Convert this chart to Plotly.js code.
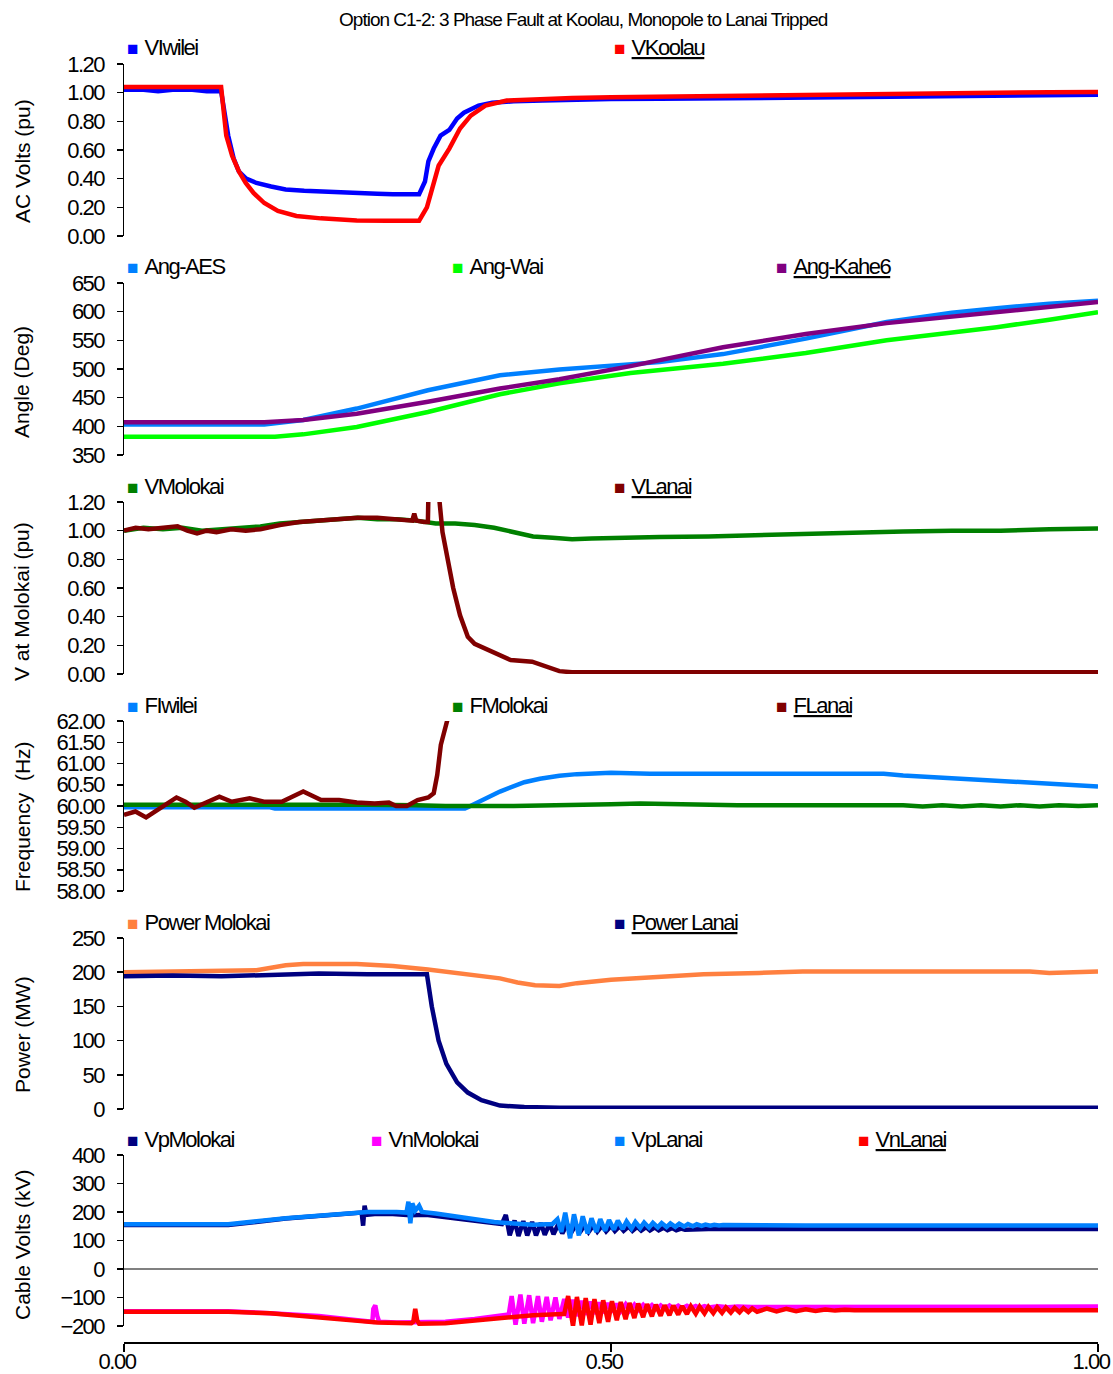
<!DOCTYPE html>
<html>
<head>
<meta charset="utf-8">
<script src="https://cdn.plot.ly/plotly-3.0.1.min.js"></script>
<style>
html,body{margin:0;padding:0;background:#fff;}
#chart{width:1113px;height:1374px;}
#chart .gtitle{letter-spacing:-1px;}
#chart [class$="tick"] text{letter-spacing:-1.5px;}
</style>
</head>
<body>
<div id="chart"></div>
<script>
// ---------------- DATA ----------------
const chartTitle = "Option C1-2: 3 Phase Fault at Koolau, Monopole to Lanai Tripped";
const xTickVals = [0, 0.5, 1.0];
const xTickText = ["0.00", "0.50", "1.00"];

// Panel 1: AC Volts (pu)
const t_VIwilei = [0, 0.02, 0.035, 0.05, 0.07, 0.085, 0.0997, 0.107, 0.1126, 0.118, 0.1254, 0.136, 0.151, 0.166, 0.185, 0.202, 0.22, 0.239, 0.26, 0.276, 0.29, 0.303, 0.309, 0.3125, 0.318, 0.325, 0.334, 0.342, 0.349, 0.364, 0.378, 0.40, 0.43, 0.46, 0.50, 0.55, 0.60, 0.65, 0.70, 0.75, 0.80, 0.85, 0.90, 0.95, 1.0];
const v_VIwilei = [1.02, 1.02, 1.01, 1.02, 1.02, 1.01, 1.01, 0.70, 0.54, 0.45, 0.40, 0.37, 0.345, 0.325, 0.315, 0.31, 0.30, 0.297, 0.295, 0.292, 0.292, 0.292, 0.38, 0.52, 0.61, 0.70, 0.74, 0.82, 0.86, 0.91, 0.93, 0.94, 0.945, 0.95, 0.955, 0.957, 0.96, 0.965, 0.97, 0.975, 0.975, 0.978, 0.98, 0.982, 0.985];
const t_VKoolau = [0, 0.05, 0.0997, 0.105, 0.111, 0.118, 0.125, 0.133, 0.144, 0.158, 0.177, 0.202, 0.239, 0.27, 0.303, 0.311, 0.316, 0.323, 0.334, 0.345, 0.356, 0.371, 0.393, 0.422, 0.46, 0.5, 0.55, 0.6, 0.65, 0.7, 0.75, 0.8, 0.85, 0.9, 0.95, 1.0];
const v_VKoolau = [1.04, 1.04, 1.04, 0.70, 0.56, 0.45, 0.37, 0.30, 0.23, 0.175, 0.14, 0.123, 0.108, 0.107, 0.107, 0.20, 0.33, 0.49, 0.61, 0.75, 0.84, 0.91, 0.945, 0.955, 0.962, 0.968, 0.972, 0.978, 0.982, 0.99, 0.993, 0.995, 0.998, 1.0, 1.003, 1.005];

// Panel 2: Angle (Deg)
const t_AngAES = [0, 0.144, 0.184, 0.239, 0.312, 0.386, 0.447, 0.5, 0.55, 0.615, 0.7, 0.783, 0.85, 0.896, 0.95, 1.0];
const v_AngAES = [403, 403, 411, 431, 463, 489, 499, 505, 512, 526, 553, 582, 598, 606, 614, 619];
const t_AngWai = [0, 0.155, 0.184, 0.239, 0.312, 0.386, 0.447, 0.52, 0.615, 0.7, 0.783, 0.85, 0.896, 0.95, 1.0];
const v_AngWai = [382, 382, 386, 399, 425, 456, 475, 493, 509, 528, 550, 563, 573, 586, 599];
const t_AngKahe6 = [0, 0.144, 0.184, 0.239, 0.312, 0.386, 0.447, 0.52, 0.615, 0.7, 0.783, 0.85, 0.896, 0.95, 1.0];
const v_AngKahe6 = [407, 407, 411, 422, 443, 466, 482, 505, 538, 561, 580, 591, 598, 607, 617];

// Panel 3: V at Molokai (pu)
const t_VMolokai = [0, 0.02, 0.04, 0.06, 0.08, 0.10, 0.12, 0.14, 0.16, 0.18, 0.20, 0.22, 0.24, 0.26, 0.28, 0.30, 0.32, 0.34, 0.36, 0.38, 0.40, 0.42, 0.44, 0.46, 0.48, 0.50, 0.55, 0.60, 0.65, 0.70, 0.75, 0.80, 0.85, 0.90, 0.95, 1.0];
const v_VMolokai = [1.00, 1.02, 1.01, 1.02, 1.00, 1.01, 1.02, 1.03, 1.05, 1.06, 1.07, 1.08, 1.09, 1.08, 1.08, 1.07, 1.05, 1.05, 1.04, 1.02, 0.99, 0.96, 0.95, 0.94, 0.945, 0.95, 0.955, 0.96, 0.97, 0.98, 0.99, 0.995, 1.0, 1.0, 1.01, 1.015];
const t_VLanai = [0, 0.012, 0.025, 0.04, 0.055, 0.065, 0.075, 0.085, 0.095, 0.11, 0.125, 0.14, 0.16, 0.18, 0.2, 0.22, 0.24, 0.26, 0.275, 0.29, 0.296, 0.298, 0.300, 0.308, 0.312, 0.3135, 0.318, 0.3225, 0.324, 0.327, 0.333, 0.338, 0.345, 0.353, 0.360, 0.378, 0.397, 0.419, 0.433, 0.447, 0.46, 1.0];
const v_VLanai = [1.00, 1.02, 1.01, 1.02, 1.03, 1.00, 0.98, 1.00, 0.99, 1.01, 1.00, 1.01, 1.04, 1.06, 1.07, 1.08, 1.09, 1.09, 1.08, 1.07, 1.07, 1.12, 1.07, 1.06, 1.06, 1.6, 1.9, 1.6, 1.2, 0.99, 0.78, 0.60, 0.41, 0.26, 0.21, 0.155, 0.097, 0.086, 0.05, 0.02, 0.012, 0.012];

// Panel 4: Frequency (Hz)
const t_FIwilei = [0, 0.15, 0.155, 0.35, 0.353, 0.37, 0.386, 0.411, 0.427, 0.447, 0.465, 0.5, 0.54, 0.6, 0.7, 0.78, 0.80, 0.84, 0.877, 0.907, 0.934, 0.956, 1.0];
const v_FIwilei = [59.97, 59.97, 59.94, 59.94, 59.97, 60.15, 60.34, 60.56, 60.64, 60.71, 60.75, 60.78, 60.76, 60.76, 60.76, 60.76, 60.72, 60.67, 60.62, 60.58, 60.54, 60.50, 60.46];
const t_FMolokai = [0, 0.05, 0.07, 0.1, 0.15, 0.18, 0.19, 0.25, 0.3, 0.33, 0.4, 0.45, 0.48, 0.5, 0.53, 0.55, 0.58, 0.6, 0.63, 0.65, 0.7, 0.75, 0.8, 0.82, 0.84, 0.86, 0.88, 0.9, 0.92, 0.94, 0.96, 0.98, 1.0];
const v_FMolokai = [60.03, 60.03, 60.05, 60.04, 60.03, 60.04, 60.03, 60.03, 60.02, 60.0, 60.0, 60.01, 60.03, 60.04, 60.06, 60.05, 60.02, 60.03, 60.02, 60.02, 60.02, 60.02, 60.02, 59.99, 60.02, 59.99, 60.02, 59.99, 60.02, 59.99, 60.02, 60.0, 60.02];
const t_FLanai = [0, 0.0117, 0.0227, 0.0337, 0.0447, 0.0539, 0.0631, 0.0722, 0.0832, 0.0979, 0.1107, 0.129, 0.1437, 0.162, 0.184, 0.2024, 0.2208, 0.239, 0.2574, 0.272, 0.2794, 0.2904, 0.3014, 0.3124, 0.318, 0.3216, 0.3253, 0.329, 0.3326, 0.3363];
const v_FLanai = [59.79, 59.87, 59.73, 59.88, 60.06, 60.20, 60.10, 59.96, 60.06, 60.22, 60.10, 60.18, 60.10, 60.10, 60.34, 60.14, 60.14, 60.08, 60.06, 60.08, 60.0, 60.0, 60.14, 60.2, 60.3, 60.73, 61.44, 61.75, 62.0, 62.4];

// Panel 5: Power (MW)
const t_PowerMolokai = [0, 0.136, 0.166, 0.184, 0.239, 0.276, 0.312, 0.349, 0.386, 0.404, 0.422, 0.447, 0.465, 0.5, 0.54, 0.595, 0.652, 0.697, 0.8, 0.93, 0.95, 0.97, 1.0];
const v_PowerMolokai = [200, 203, 210, 212, 212, 209, 204, 198, 191, 185, 181, 180, 184, 189, 193, 197, 199, 201, 201, 201, 199, 200, 201];
const t_PowerLanai = [0, 0.05, 0.1, 0.136, 0.2, 0.25, 0.311, 0.316, 0.323, 0.331, 0.342, 0.353, 0.367, 0.386, 0.411, 0.447, 1.0];
const v_PowerLanai = [194, 195, 194, 196, 198, 197, 197, 150, 100, 66, 39, 24, 13, 5, 3, 2, 2];

// Panel 6: Cable Volts (kV)
const t_VpMolokai = [0, 0.107, 0.166, 0.22, 0.239, 0.244, 0.2455, 0.247, 0.249, 0.26, 0.276, 0.294, 0.31, 0.33, 0.349, 0.37, 0.386, 0.388, 0.392, 0.396, 0.401, 0.405, 0.410, 0.414, 0.419, 0.423, 0.428, 0.432, 0.437, 0.441, 0.446, 0.450, 0.455, 0.459, 0.464, 0.468, 0.473, 0.477, 0.482, 0.486, 0.491, 0.495, 0.500, 0.504, 0.509, 0.513, 0.518, 0.522, 0.527, 0.531, 0.536, 0.540, 0.545, 0.549, 0.554, 0.558, 0.563, 0.567, 0.572, 0.576, 0.6, 1.0];
const v_VpMolokai = [154, 154, 177, 193, 198, 198, 152, 222, 190, 194, 193, 189, 190, 182, 175, 165, 158, 158, 190, 118, 170, 116, 168, 118, 165, 118, 162, 120, 160, 122, 158, 125, 157, 127, 156, 128, 155, 130, 154, 131, 152, 132, 151, 133, 150, 134, 149, 134, 148, 135, 147, 135, 146, 136, 145, 136, 144, 136, 142, 138, 140, 140];
const t_VnMolokai = [0, 0.107, 0.15, 0.2, 0.24, 0.255, 0.256, 0.258, 0.260, 0.262, 0.28, 0.30, 0.33, 0.36, 0.385, 0.395, 0.398, 0.402, 0.407, 0.411, 0.416, 0.420, 0.425, 0.429, 0.434, 0.438, 0.443, 0.447, 0.452, 0.456, 0.461, 0.465, 0.470, 0.474, 0.479, 0.483, 0.488, 0.492, 0.497, 0.501, 0.506, 0.510, 0.515, 0.519, 0.524, 0.528, 0.533, 0.537, 0.542, 0.546, 0.551, 0.555, 0.560, 0.564, 0.569, 0.573, 0.578, 0.582, 0.587, 0.591, 0.596, 0.600, 0.610, 0.620, 0.630, 0.645, 1.0];
const v_VnMolokai = [-148, -148, -155, -165, -180, -185, -140, -128, -165, -185, -188, -188, -185, -175, -165, -160, -95, -195, -90, -192, -92, -190, -95, -185, -98, -180, -100, -175, -105, -170, -108, -165, -112, -160, -115, -157, -118, -154, -120, -151, -122, -148, -124, -146, -125, -144, -126, -142, -127, -141, -128, -140, -128, -139, -129, -138, -129, -137, -130, -136, -130, -135, -131, -134, -132, -133, -132];
const t_VpLanai = [0, 0.107, 0.166, 0.22, 0.25, 0.28, 0.290, 0.292, 0.294, 0.296, 0.299, 0.303, 0.306, 0.32, 0.349, 0.38, 0.40, 0.42, 0.440, 0.445, 0.449, 0.453, 0.458, 0.462, 0.467, 0.471, 0.476, 0.480, 0.485, 0.489, 0.494, 0.498, 0.503, 0.507, 0.512, 0.516, 0.521, 0.525, 0.530, 0.534, 0.539, 0.543, 0.548, 0.552, 0.557, 0.561, 0.566, 0.570, 0.575, 0.579, 0.584, 0.588, 0.593, 0.597, 0.602, 0.606, 0.611, 0.615, 0.7, 1.0];
const v_VpLanai = [157, 157, 178, 194, 200, 200, 198, 236, 160, 230, 205, 222, 200, 195, 180, 165, 160, 155, 158, 175, 130, 198, 108, 192, 118, 185, 125, 178, 130, 175, 134, 172, 138, 170, 140, 167, 142, 165, 144, 163, 145, 162, 146, 161, 147, 160, 148, 159, 149, 158, 150, 157, 151, 156, 152, 155, 153, 154, 153, 153];
const t_VnLanai = [0, 0.107, 0.15, 0.2, 0.24, 0.26, 0.295, 0.297, 0.299, 0.301, 0.303, 0.33, 0.36, 0.39, 0.42, 0.45, 0.452, 0.456, 0.461, 0.465, 0.470, 0.474, 0.479, 0.483, 0.488, 0.492, 0.497, 0.501, 0.506, 0.510, 0.515, 0.519, 0.524, 0.528, 0.533, 0.537, 0.542, 0.546, 0.551, 0.555, 0.560, 0.564, 0.569, 0.573, 0.578, 0.582, 0.587, 0.591, 0.596, 0.600, 0.605, 0.609, 0.614, 0.618, 0.623, 0.627, 0.632, 0.636, 0.641, 0.645, 0.650, 0.660, 0.670, 0.680, 0.690, 0.700, 0.710, 0.720, 0.730, 0.740, 0.75, 1.0];
const v_VnLanai = [-150, -150, -155, -168, -182, -188, -190, -185, -140, -180, -192, -190, -180, -170, -162, -158, -158, -95, -200, -98, -198, -102, -195, -106, -190, -110, -185, -113, -180, -116, -176, -119, -172, -121, -169, -123, -166, -125, -164, -127, -162, -128, -160, -130, -158, -131, -157, -132, -156, -133, -155, -134, -154, -135, -153, -136, -152, -137, -151, -138, -150, -139, -149, -140, -148, -141, -147, -142, -146, -143, -145, -145];

// ---------------- LAYOUT HELPERS ----------------
const FONT = "Liberation Sans, Arial, sans-serif";
const H = 1374, PLOT_W = 974, LEFT = 124;
const py = px => 1 - px / H;
const pxX = px => (px - LEFT) / PLOT_W;

const panels = [
  {top: 64,  bot: 236,  titleMid: 161,  range: [0, 1.2],    dtick: 0.2, fmt: ".2f", title: "AC Volts (pu)",
   series: [["VIwilei", t_VIwilei, v_VIwilei, "#0000ff"], ["VKoolau", t_VKoolau, v_VKoolau, "#ff0000"]]},
  {top: 283, bot: 455,  titleMid: 382,  range: [350, 650],  dtick: 50,  fmt: "d",   title: "Angle (Deg)",
   series: [["Ang-AES", t_AngAES, v_AngAES, "#0080ff"], ["Ang-Wai", t_AngWai, v_AngWai, "#00ff00"], ["Ang-Kahe6", t_AngKahe6, v_AngKahe6, "#800080"]]},
  {top: 502, bot: 674,  titleMid: 602,  range: [0, 1.2],    dtick: 0.2, fmt: ".2f", title: "V at Molokai (pu)",
   series: [["VMolokai", t_VMolokai, v_VMolokai, "#008000"], ["VLanai", t_VLanai, v_VLanai, "#800000"]]},
  {top: 721, bot: 891,  titleMid: 817,  range: [58, 62],    dtick: 0.5, fmt: ".2f", title: "Frequency  (Hz)",
   series: [["FIwilei", t_FIwilei, v_FIwilei, "#0080ff"], ["FMolokai", t_FMolokai, v_FMolokai, "#008000"], ["FLanai", t_FLanai, v_FLanai, "#800000"]]},
  {top: 938, bot: 1109, titleMid: 1035, range: [0, 250],    dtick: 50,  fmt: "d",   title: "Power (MW)",
   series: [["Power Molokai", t_PowerMolokai, v_PowerMolokai, "#ff8040"], ["Power Lanai", t_PowerLanai, v_PowerLanai, "#000080"]]},
  {top: 1155, bot: 1326, titleMid: 1245, range: [-200, 400], dtick: 100, fmt: "d",  title: "Cable Volts (kV)",
   series: [["VpMolokai", t_VpMolokai, v_VpMolokai, "#000080"], ["VnMolokai", t_VnMolokai, v_VnMolokai, "#ff00ff"], ["VpLanai", t_VpLanai, v_VpLanai, "#0080ff"], ["VnLanai", t_VnLanai, v_VnLanai, "#ff0000"]]}
];

const traces = [];
const annotations = [];
const layout = {
  width: 1113, height: 1374,
  margin: {l: LEFT, r: 15, t: 0, b: 0},
  paper_bgcolor: "#ffffff", plot_bgcolor: "#ffffff",
  showlegend: false,
  font: {family: FONT, size: 21, color: "#000000"},
  title: {text: chartTitle, x: 0.524, xanchor: "center", y: 1 - 19 / H, yanchor: "middle",
          font: {family: FONT, size: 19, color: "#000000"}},
  xaxis: {domain: [0, 1], range: [0, 1], anchor: "free", position: py(1342),
          tickvals: xTickVals, ticktext: xTickText, ticks: "outside", ticklen: 8, tickwidth: 1.5, tickcolor: "#000",
          showline: true, linecolor: "#000", linewidth: 1.5, showgrid: false, zeroline: false,
          ticklabelstandoff: -9, ticklabelshift: -7,
          tickfont: {family: FONT, size: 22}, fixedrange: true},
  annotations: annotations
};

panels.forEach((p, i) => {
  const yname = i === 0 ? "y" : "y" + (i + 1);
  const ykey = i === 0 ? "yaxis" : "yaxis" + (i + 1);
  layout[ykey] = {
    domain: [py(p.bot), py(p.top)], range: p.range, anchor: "x",
    dtick: p.dtick, tick0: p.range[0], tickformat: p.fmt,
    ticks: "outside", ticklen: 6, tickwidth: 1.5, tickcolor: "#000",
    showline: true, linecolor: "#000", linewidth: 1.5, showgrid: false,
    zeroline: i === 5, zerolinecolor: "#808080", zerolinewidth: 1.5,
    tickfont: {family: FONT, size: 22}, ticklabelstandoff: 8,
    fixedrange: true
  };
  // axis title
  annotations.push({xref: "paper", yref: "paper", x: pxX(22), y: py(p.titleMid),
    xanchor: "center", yanchor: "middle", textangle: -90, showarrow: false,
    text: p.title, font: {family: FONT, size: 21, color: "#000"}});
  const n = p.series.length;
  p.series.forEach((s, j) => {
    traces.push({type: "scatter", mode: "lines", name: s[0], x: s[1], y: s[2],
                 xaxis: "x", yaxis: yname, line: {color: s[3], width: 4.5}, hoverinfo: "skip"});
    const label = "<span style='letter-spacing:-1.5px'>" + s[0] + "</span>";
    annotations.push({xref: "paper", yref: "paper", x: pxX(125) + j / n, y: py(p.top - 16),
      xanchor: "left", yanchor: "middle", showarrow: false, align: "left",
      text: "<span style='color:" + s[3] + ";font-size:19px'>■</span> " + (j === n - 1 ? "<u>" + label + "</u>" : label),
      font: {family: FONT, size: 22, color: "#000"}});
  });
});

Plotly.newPlot("chart", traces, layout, {staticPlot: true, displayModeBar: false});
</script>
</body>
</html>
